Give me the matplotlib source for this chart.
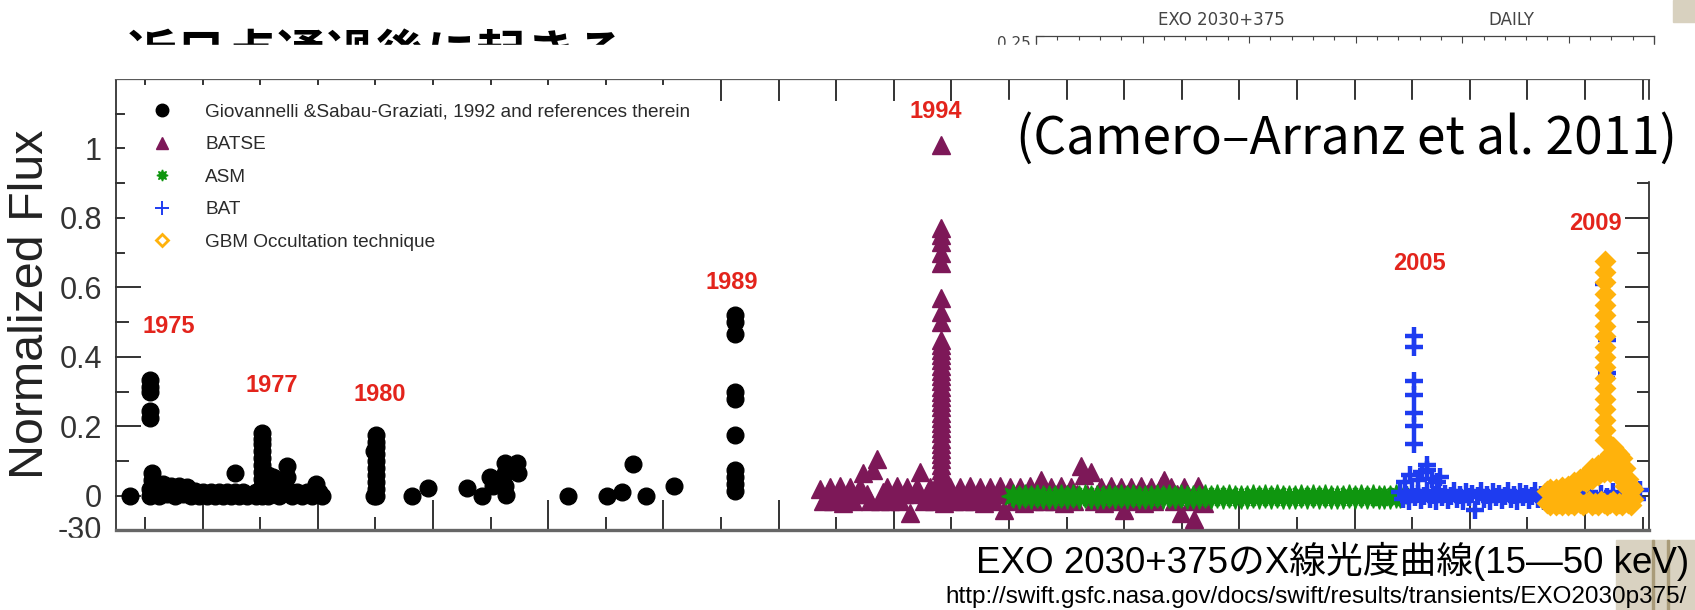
import matplotlib
matplotlib.use("Agg")
import matplotlib.pyplot as plt
from matplotlib.lines import Line2D
from matplotlib.patches import Rectangle
from matplotlib.ticker import MultipleLocator

W, H = 1695, 610


def fx(x):
    return x / W


def fy(y):
    return 1 - y / H


# ---------------- light-curve data (MJD, normalized flux) ----------------
# Giovannelli & Sabau-Graziati (1992) compilation
gio_mjd = [42370,
           42543, 42543, 42543, 42543, 42543, 42543, 42543, 42561, 42561,
           42587, 42622, 42656, 42691, 42726, 42760, 42795, 42830, 42865, 42899,
           42934, 42969, 43003, 43038, 43073, 43108, 43142, 43177, 43212, 43246,
           43281, 43281, 43316, 43351, 43385,
           43464, 43464, 43516, 43516, 43516, 43516, 43516, 43516, 43516, 43516,
           43516, 43516, 43516,
           43568, 43568, 43611, 43611, 43663, 43663, 43733, 43733, 43733, 43776,
           43819, 43863, 43906, 43950, 43984, 44010, 44036,
           44488, 44488, 44505, 44505, 44505, 44505, 44505, 44505, 44505, 44505,
           44505, 44505,
           44818, 44957, 45295, 45425, 45495, 45521, 45582, 45625, 45625, 45625,
           45634, 45712, 45729, 45738, 46172, 46510, 46641, 46736, 46849, 47092,
           47621, 47621, 47621, 47621, 47621, 47621, 47621, 47621, 47621, 47621]
gio_flux = [0.0,
            0.335, 0.315, 0.30, 0.245, 0.225, 0.02, 0.0, 0.065, 0.045,
            0.03, 0.0, 0.035, 0.005, 0.03, 0.0, 0.03, 0.005, 0.025, 0.0,
            0.015, 0.0, 0.01, 0.0, 0.01, 0.0, 0.01, 0.0, 0.01, 0.0,
            0.065, 0.01, 0.0, 0.01, 0.0,
            0.01, 0.0, 0.18, 0.165, 0.15, 0.13, 0.11, 0.09, 0.07, 0.05,
            0.03, 0.01, 0.0,
            0.06, 0.0, 0.055, 0.02, 0.03, 0.0, 0.085, 0.055, 0.02, 0.0,
            0.01, 0.0, 0.01, 0.0, 0.035, 0.01, 0.0,
            0.13, 0.0, 0.175, 0.155, 0.14, 0.12, 0.10, 0.08, 0.06, 0.04,
            0.02, 0.0,
            0.0, 0.023, 0.023, 0.0, 0.055, 0.03, 0.037, 0.095, 0.065, 0.03,
            0.003, 0.08, 0.095, 0.066, 0.0, 0.0, 0.01, 0.092, 0.0, 0.03,
            0.52, 0.50, 0.465, 0.30, 0.28, 0.175, 0.075, 0.055, 0.035, 0.015]

# CGRO/BATSE: quiescent band, then the 1994 outburst
batse_mjd = [48359, 48388, 48417, 48446, 48475, 48504, 48533, 48562, 48591, 48620,
             48649, 48678, 48707, 48736, 48765, 48794, 48823, 48852, 48881, 48910,
             48939, 48968, 48997, 49026, 49055, 49084, 49113, 49142, 49171, 49200,
             49229, 49258, 49287, 49316, 49345, 49374, 49403, 49432, 49461, 49490,
             49519, 49548, 49577, 49606, 49635, 49664, 49693, 49722, 49751, 49780,
             49809, 49838, 49867, 49896, 49925, 49954, 49983, 50012, 50041, 50070,
             50099, 50128, 50157, 50186, 50215, 50244, 50273, 50302, 50331, 50360,
             50389, 50418, 50447, 50476, 50505, 50534, 50563, 50592, 50621, 50650,
             50679, 50708, 50737, 50766, 50795, 50824, 50853, 50882, 50911, 50940,
             50969, 50998, 51027, 51056, 51085, 51114, 51143, 51172, 51201, 51230,
             51259, 51288, 51317, 51346, 51375, 51404, 51433, 51462, 51491, 51520,
             51549, 51578, 51607, 51636, 51665, 51694,
             49410, 49410, 49410, 49410, 49410, 49410, 49410, 49410, 49410, 49410,
             49410, 49410, 49410, 49410, 49410, 49410, 49410, 49410, 49410, 49410,
             49410, 49410, 49410, 49410, 49410, 49410, 49410, 49410, 49410, 49410,
             49410, 49410, 49410, 49410, 49410, 49410, 49410]
batse_flux = [0.02, -0.015, 0.005, 0.025, -0.015, 0.005, 0.03, -0.02, 0.005, 0.025,
              -0.015, 0.005, 0.025, 0.065, 0.005, -0.015, 0.075, 0.105, -0.015, 0.01,
              0.025, -0.015, 0.005, 0.03, -0.015, 0.005, 0.025, -0.05, 0.005, 0.025,
              0.07, -0.015, 0.005, 0.025, -0.015, 0.005, 0.03, -0.02, 0.005, 0.025,
              -0.015, 0.005, 0.025, -0.015, 0.005, 0.03, -0.015, 0.005, 0.025, -0.02,
              0.005, 0.025, -0.015, 0.005, 0.03, -0.04, 0.005, 0.025, -0.015, 0.005,
              0.025, -0.02, 0.005, 0.03, -0.015, 0.005, 0.045, -0.015, 0.005, 0.025,
              -0.015, 0.005, 0.03, -0.02, 0.005, 0.025, -0.015, 0.005, 0.085, 0.06,
              0.005, 0.07, -0.015, 0.005, 0.025, -0.02, 0.005, 0.03, -0.015, 0.005,
              0.025, -0.04, 0.005, 0.025, -0.015, 0.005, 0.03, -0.02, 0.005, 0.025,
              -0.015, 0.005, 0.03, 0.045, 0.005, 0.025, -0.015, 0.005, -0.05, 0.025,
              0.005, -0.015, -0.065, 0.03, 0.005, -0.02,
              1.01, 0.77, 0.75, 0.73, 0.70, 0.67, 0.57, 0.53, 0.50, 0.45,
              0.435, 0.42, 0.405, 0.39, 0.375, 0.36, 0.345, 0.33, 0.315, 0.30,
              0.285, 0.27, 0.255, 0.24, 0.225, 0.21, 0.195, 0.18, 0.165, 0.15,
              0.135, 0.12, 0.105, 0.09, 0.075, 0.06, 0.045]

# RXTE/ASM
asm_mjd = [50035, 50087, 50139, 50191, 50243, 50295, 50347, 50399, 50451, 50503,
           50555, 50607, 50659, 50711, 50763, 50815, 50867, 50919, 50971, 51023,
           51075, 51127, 51179, 51231, 51283, 51335, 51387, 51439, 51491, 51543,
           51595, 51647, 51699, 51751, 51803, 51855, 51907, 51959, 52011, 52063,
           52115, 52167, 52219, 52271, 52323, 52375, 52427, 52479, 52531, 52583,
           52635, 52687, 52739, 52791, 52843, 52895, 52947, 52999, 53051, 53103,
           53155, 53207, 53259, 53311, 53363, 53393]
asm_flux = [0.0, -0.004, -0.001, -0.003, 0.0, -0.004, -0.002, -0.003, 0.0, -0.004,
            -0.001, -0.003, 0.0, -0.004, -0.002, -0.003, 0.0, -0.004, -0.001, -0.003,
            0.0, -0.004, -0.002, -0.002, 0.0, -0.004, -0.001, -0.003, 0.0, -0.004,
            -0.002, -0.003, 0.0, -0.004, -0.001, -0.003, 0.0, -0.004, -0.002, -0.003,
            0.0, -0.004, -0.001, -0.003, 0.0, -0.004, -0.002, -0.003, 0.0, -0.004,
            -0.001, -0.003, 0.0, -0.004, -0.002, -0.003, 0.0, -0.004, -0.001, -0.003,
            0.0, -0.004, -0.002, -0.003, 0.0, -0.001]

# Swift/BAT: daily band, the 2005 outburst and the points of the 2009 peak
bat_mjd = [53394, 53420, 53446, 53472, 53498, 53524, 53550, 53576, 53602, 53628,
           53654, 53680, 53706, 53732, 53758, 53784, 53810, 53836, 53862, 53888,
           53914, 53940, 53966, 53992, 54018, 54044, 54070, 54096, 54122, 54148,
           54174, 54200, 54226, 54252, 54278, 54304, 54330, 54356, 54382, 54408,
           54434, 54460, 54486, 54512, 54538, 54564, 54590, 54616, 54642, 54668,
           54720, 54772, 54824, 54876, 54928, 54980, 55032, 55084, 55136, 55188,
           55240, 55292, 55344, 55396, 55448, 55477,
           53515, 53515, 53515, 53515, 53515, 53515, 53515,
           53437, 53481, 53550, 53585, 53628, 53628, 53672, 53715, 53741,
           55164, 55190, 55190, 55182]
bat_flux = [0.012, -0.01, 0.002, -0.014, 0.014, -0.004, 0.006, -0.012, 0.0, 0.013,
            -0.008, 0.004, -0.014, 0.011, -0.004, 0.007, -0.012, 0.0, 0.014, -0.008,
            0.004, -0.014, 0.011, -0.004, 0.007, -0.04, 0.0, 0.013, -0.008, 0.004,
            -0.014, 0.011, -0.004, 0.007, -0.012, 0.0, 0.014, -0.008, 0.004, -0.014,
            0.011, -0.004, 0.007, -0.012, 0.0, 0.013, -0.008, 0.004, -0.014, 0.01,
            0.0, -0.01, 0.008, -0.006, 0.01, -0.008, 0.012, -0.01, 0.006, -0.004,
            0.01, -0.008, 0.004, 0.015, -0.01, 0.017,
            0.46, 0.43, 0.33, 0.29, 0.24, 0.20, 0.15,
            0.04, 0.06, 0.045, 0.07, 0.09, 0.075, 0.05, 0.04, 0.055,
            0.61, 0.45, 0.355, 0.34]

# Fermi/GBM occultation: lower row, upper row with the pre-peak rise, 2009 peak
gbm_mjd = [54670, 54696, 54722, 54748, 54774, 54800, 54826, 54852, 54878, 54904,
           54930, 54956, 54982, 55008, 55034, 55060, 55086, 55112, 55138, 55164,
           55190, 55216, 55242, 55268, 55294, 55320, 55346, 55372, 55398, 55416,
           54670, 54696, 54722, 54748, 54774, 54800, 54826, 54852, 54878, 54904,
           54930, 54956, 54982, 55008, 55034, 55060, 55086, 55112, 55138, 55164,
           55190, 55216, 55242, 55268, 55294, 55320, 55346, 55372, 55398, 55416,
           55008, 55060, 55112, 55164, 55216, 55242, 55268, 55294, 55320, 55346,
           55173, 55173, 55173, 55173, 55173, 55173, 55173, 55173, 55173, 55173,
           55173, 55173, 55173, 55173, 55173, 55173, 55173, 55173]
gbm_flux = [-0.02, -0.025, -0.015, -0.025, -0.02, -0.025, -0.015, -0.025, -0.02, -0.025,
            -0.015, -0.02, -0.025, -0.02, -0.015, -0.025, -0.02, -0.025, -0.015, -0.02,
            -0.025, -0.02, -0.015, -0.025, -0.02, -0.025, -0.015, -0.02, -0.025, -0.01,
            0.015, 0.02, 0.01, 0.02, 0.015, 0.025, 0.02, 0.03, 0.025, 0.04,
            0.035, 0.05, 0.045, 0.06, 0.07, 0.08, 0.07, 0.09, 0.08, 0.10,
            0.09, 0.12, 0.14, 0.13, 0.12, 0.11, 0.08, 0.05, 0.03, 0.02,
            0.04, 0.05, 0.06, 0.07, 0.07, 0.08, 0.07, 0.06, 0.05, 0.03,
            0.675, 0.645, 0.615, 0.58, 0.55, 0.52, 0.49, 0.46, 0.43, 0.40,
            0.37, 0.34, 0.31, 0.28, 0.25, 0.22, 0.19, 0.16]

legend_labels = ["Giovannelli &Sabau-Graziati, 1992 and references therein",
                 "BATSE", "ASM", "BAT", "GBM Occultation technique"]

# outburst years written above each episode
year_labels = ["1975", "1977", "1980", "1989", "1994", "2005", "2009"]
year_mjd = [42708, 43602, 44540, 47595, 49366, 53559, 55087]
year_flux = [0.489, 0.317, 0.293, 0.613, 1.106, 0.669, 0.783]

ytick_vals = [0, 0.2, 0.4, 0.6, 0.8, 1]
ytick_text = ["0", "0.2", "0.4", "0.6", "0.8", "1"]

# ticks of the Swift daily strip above the figure
swift_minor = [1, 2, 3, 4, 6, 7, 8, 9, 11, 12, 13, 14, 16, 17, 18, 19, 21, 22, 23, 24,
               26, 27, 28]
swift_major = [0, 5, 10, 15, 20, 25, 29]

purple = "#7d1858"
green = "#0f960f"
blue = "#1e3cf0"
orange = "#ffb20c"
red = "#e3241c"
narrow = ["Liberation Sans Narrow", "Liberation Sans"]
cjk = ["Liberation Sans", "Noto Sans CJK JP"]

fig = plt.figure(figsize=(W / 100, H / 100), dpi=100)

# ---------------- main light-curve panel ----------------
ax = fig.add_axes([fx(116), fy(530), fx(1649) - fx(116), fy(79) - fy(530)])
ax.set_xlim(42248, 55555)
ax.set_ylim(-0.098, 1.2)

ax.plot(gio_mjd, gio_flux, ls="none", marker="o", ms=12, color="black", zorder=3)
ax.plot(batse_mjd, batse_flux, ls="none", marker="^", ms=12.5, color=purple, zorder=3)
ax.plot(asm_mjd, asm_flux, ls="none", marker=(8, 1, 0), ms=17, color=green, zorder=4)
ax.plot(bat_mjd, bat_flux, ls="none", marker="+", ms=12.5, mew=3.2, color=blue, zorder=5)
ax.plot(gbm_mjd, gbm_flux, ls="none", marker="D", ms=9.5, mew=2, mfc=orange,
        color=orange, zorder=6)

for lab, xm, yv in zip(year_labels, year_mjd, year_flux):
    ax.text(xm, yv, lab, color=red, fontsize=17, fontweight="bold", family=narrow,
            ha="center", va="center", zorder=7)

handles = [Line2D([], [], ls="none", marker="o", ms=9, color="black"),
           Line2D([], [], ls="none", marker="^", ms=8, color=purple),
           Line2D([], [], ls="none", marker=(8, 1, 0), ms=8, color=green),
           Line2D([], [], ls="none", marker="+", ms=10, mew=1.4, color=blue),
           Line2D([], [], ls="none", marker="D", ms=6, mew=2, mfc="none", color=orange)]
leg = ax.legend(handles, legend_labels, loc="upper left", bbox_to_anchor=(0.024, 0.946),
                frameon=False, handlelength=1.0, handletextpad=1.75, labelspacing=0.8,
                borderpad=0, borderaxespad=0,
                prop={"family": narrow, "size": 13.7})
for t in leg.get_texts():
    t.set_color("#2a2a2a")

ax.set_yticks(ytick_vals)
ax.set_yticklabels(ytick_text, family="Liberation Sans", fontsize=22, color="#333333")
ax.yaxis.set_minor_locator(MultipleLocator(0.1))
ax.xaxis.set_major_locator(MultipleLocator(1000))
ax.xaxis.set_minor_locator(MultipleLocator(500))
ax.tick_params(axis="x", which="both", direction="in", top=False, bottom=True,
               labelbottom=False, color="#333333", width=1.4)
ax.tick_params(axis="x", which="major", length=21.6)
ax.tick_params(axis="x", which="minor", length=9.4)
ax.tick_params(axis="y", which="both", direction="in", left=False, right=True,
               labelleft=True, color="#333333", width=1.4, pad=10)
ax.tick_params(axis="y", which="major", length=17)
ax.tick_params(axis="y", which="minor", length=8.5)

x0, x1 = ax.get_xlim()
y0, y1 = ax.get_ylim()

# top ticks: short over the early years, longer from 1988 on
top_ticks = list(ax.xaxis.get_majorticklocs()) + list(ax.xaxis.get_minorticklocs())
for t in top_ticks:
    if not x0 < t < x1:
        continue
    depth = 21 if t >= 47400 else 5
    ax.plot([t, t], [1, 1 - depth / 451], transform=ax.get_xaxis_transform(),
            color="#333333", lw=1.4, clip_on=False, zorder=2)

# left ticks: full length up to 0.6, short stubs above
for locs, full in ((ax.yaxis.get_majorticklocs(), 24), (ax.yaxis.get_minorticklocs(), 12)):
    for v in locs:
        if not y0 < v < y1:
            continue
        depth = full if v <= 0.65 else 8
        ax.plot([0, depth / 1533], [v, v], transform=ax.get_yaxis_transform(),
                color="#333333", lw=1.4, clip_on=False, zorder=2)

for side in ("left", "right"):
    ax.spines[side].set_linewidth(1.3)
    ax.spines[side].set_color("#333333")
ax.spines["top"].set_linewidth(1.6)
ax.spines["top"].set_color("#333333")
ax.spines["bottom"].set_linewidth(2.4)
ax.spines["bottom"].set_color("#666666")

fig.text(fx(31), fy(304), "Normalized Flux", rotation=90, fontsize=34.8,
         family="Liberation Sans", color="#222222", ha="center", va="center")

# -30 label of the plot underneath, cut off by the white band below
fig.text(fx(102), fy(531), "-30", fontsize=22, family="Liberation Sans",
         color="#333333", ha="right", va="center", zorder=1)
fig.patches.append(Rectangle((0, 0), 1, fy(538), transform=fig.transFigure,
                             color="white", zorder=2))

# ---------------- Swift daily strip at the top ----------------
sw = fig.add_axes([fx(1036), fy(60), fx(1654) - fx(1036), fy(36) - fy(60)])
sw.set_xlim(0, 29)
sw.set_ylim(0, 1)
sw.set_xticks(swift_major)
sw.set_xticks(swift_minor, minor=True)
sw.set_yticks([1])
sw.set_yticklabels([""])
sw.tick_params(axis="x", which="both", direction="in", top=True, bottom=False,
               labelbottom=False, color="#444444", width=0.8)
sw.tick_params(axis="x", which="major", length=5)
sw.tick_params(axis="x", which="minor", length=3)
sw.tick_params(axis="y", length=6, direction="in", color="#444444")
for s in sw.spines.values():
    s.set_color("#444444")
    s.set_linewidth(0.9)
fig.text(fx(1031), fy(43.5), "0.25", fontsize=11, family="DejaVu Sans",
         color="#444444", ha="right", va="center", zorder=1)
fig.text(fx(1221), fy(20), "EXO 2030+375", fontsize=12, family="DejaVu Sans",
         color="#444444", ha="center", va="center")
fig.text(fx(1511), fy(20), "DAILY", fontsize=12, family="DejaVu Sans",
         color="#444444", ha="center", va="center")

# slide heading, mostly hidden behind the figure
fig.text(fx(127), fy(31), "近日点通過後に起きる", fontsize=36, fontweight="bold",
         family="Noto Sans CJK JP", color="black", ha="left", va="top", zorder=1)
fig.patches.append(Rectangle((0, fy(78)), 1, fy(45) - fy(78), transform=fig.transFigure,
                             color="white", zorder=2))

# citation box over the upper right corner of the panel
fig.patches.append(Rectangle((fx(1000), fy(180)), 1 - fx(1000), fy(100) - fy(180),
                             transform=fig.transFigure, color="white", zorder=2))
fig.text(fx(1016), fy(139), "(Camero\u2013Arranz et al. 2011)", fontsize=37,
         family="Noto Sans CJK JP", color="black", ha="left", va="center", zorder=3)

# beige slide decoration on the right
fig.patches.append(Rectangle((fx(1673), fy(22)), 1 - fx(1673), fy(0) - fy(22),
                             transform=fig.transFigure, color="#d8d1bf", zorder=2))
fig.patches.append(Rectangle((fx(1616), 0), 1 - fx(1616), fy(540),
                             transform=fig.transFigure, color="#d9d2c1", zorder=2.5))
for xl in (1652, 1667):
    fig.patches.append(Rectangle((fx(xl), 0), fx(2), fy(540), transform=fig.transFigure,
                                 color="#a99b79", zorder=2.6))

fig.text(fx(1689), fy(573), "EXO 2030+375のX線光度曲線(15\u201450 keV)", fontsize=26.5,
         family=cjk, color="black", ha="right", va="baseline", zorder=3)
fig.text(fx(1687), fy(603), "http://swift.gsfc.nasa.gov/docs/swift/results/transients/EXO2030p375/",
         fontsize=17.5, family=narrow, color="black", ha="right", va="baseline", zorder=3)

fig.savefig("out.png", dpi=100, facecolor="white")
